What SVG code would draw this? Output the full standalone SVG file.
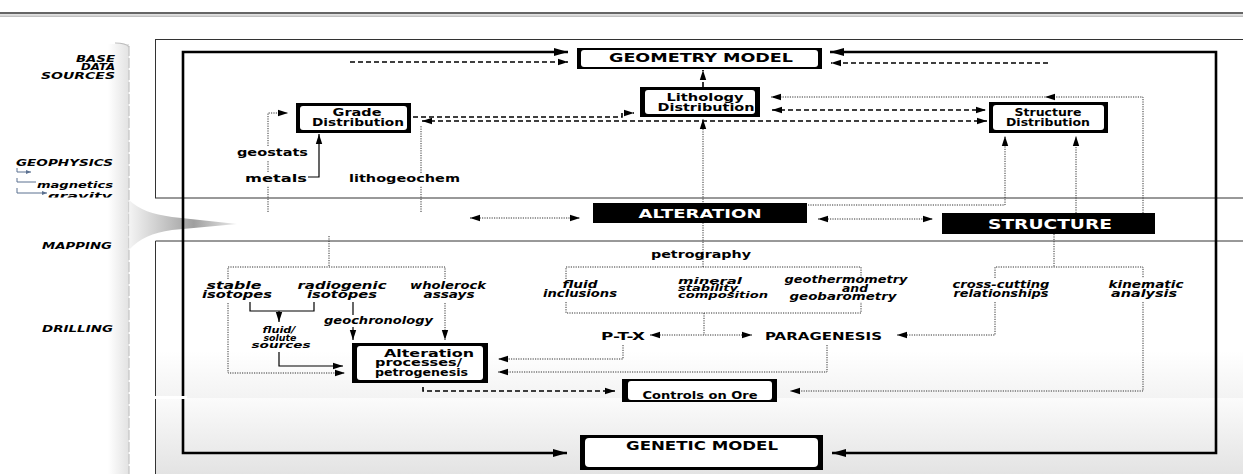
<svg xmlns="http://www.w3.org/2000/svg" width="1243" height="474" viewBox="0 0 1243 474">
<defs>
<style>
text{font-family:"DejaVu Sans","Verdana","Liberation Sans",sans-serif;font-weight:bold;fill:#000}
.it{font-style:italic}
.side{font-style:italic;font-size:9px}
.w{fill:#fff}
.frame{fill:none;stroke:#000;stroke-width:2.6}
.sol{fill:none;stroke:#000;stroke-width:1.2}
.dash{fill:none;stroke:#000;stroke-width:1.6;stroke-dasharray:5 3}
.dot{fill:none;stroke:#333;stroke-width:1;stroke-dasharray:1.2 1.2}
.blk{fill:#000}
.inner{fill:#fff}
.pl{fill:none;stroke:#333;stroke-width:1}
.bl{fill:none;stroke:#5b7090;stroke-width:1}
</style>
<marker id="a" markerUnits="userSpaceOnUse" markerWidth="10" markerHeight="8" refX="10" refY="4" orient="auto-start-reverse" viewBox="0 0 10 8"><path d="M0,0.8 L10,4 L0,7.2 Z" fill="#000"/></marker>
<marker id="A" markerUnits="userSpaceOnUse" markerWidth="14" markerHeight="9" refX="14" refY="4.5" orient="auto-start-reverse" viewBox="0 0 14 9"><path d="M0,0.5 L14,4.5 L0,8.5 Z" fill="#000"/></marker>
<marker id="s" markerUnits="userSpaceOnUse" markerWidth="5" markerHeight="4" refX="5" refY="2" orient="auto" viewBox="0 0 5 4"><path d="M0,0 L5,2 L0,4 Z" fill="#5b7090"/></marker>
<linearGradient id="gTop" x1="0" y1="0" x2="0" y2="1"><stop offset="0" stop-color="#dedede"/><stop offset="0.45" stop-color="#f6f6f6"/><stop offset="1" stop-color="#ffffff"/></linearGradient>
<linearGradient id="gMid" x1="0" y1="0" x2="0" y2="1"><stop offset="0" stop-color="#ffffff"/><stop offset="0.7" stop-color="#ffffff"/><stop offset="1" stop-color="#f3f3f3"/></linearGradient>
<linearGradient id="gBot" x1="0" y1="0" x2="0" y2="1"><stop offset="0" stop-color="#fbfbfb"/><stop offset="1" stop-color="#e2e2e2"/></linearGradient>
<linearGradient id="gAx" x1="0" y1="0" x2="1" y2="0"><stop offset="0" stop-color="#ffffff"/><stop offset="1" stop-color="#e2e2e2"/></linearGradient>
<linearGradient id="gBlob" x1="129" y1="0" x2="237" y2="0" gradientUnits="userSpaceOnUse"><stop offset="0" stop-color="#f2f2f2"/><stop offset="0.6" stop-color="#8e8e8e"/><stop offset="1" stop-color="#e8e8e8"/></linearGradient>
<clipPath id="cg"><rect x="0" y="150" width="130" height="47.5"/></clipPath>
</defs>

<!-- background -->
<rect x="0" y="0" width="1243" height="474" fill="#fff"/>
<rect x="0" y="12" width="1243" height="2.2" fill="#666"/>
<rect x="0" y="15.6" width="1243" height="1" fill="#999"/>
<rect x="108" y="44" width="21" height="430" fill="url(#gAx)"/>
<path d="M115,43 Q126,43 129,47" fill="none" stroke="#bbb" stroke-width="1.2"/>
<line x1="129" y1="46" x2="129" y2="474" stroke="#c4c4c4" stroke-width="1.2" stroke-dasharray="10 2"/>
<path d="M129,200 C140,210 152,214 172,217 L237,224 L172,230 C152,233 140,238 129,250 Z" fill="url(#gBlob)" opacity="0.85"/>

<rect x="155.5" y="39.5" width="1100" height="158.5" fill="url(#gTop)" class="pl"/>
<rect x="155.5" y="241" width="1100" height="157" fill="url(#gMid)"/>
<rect x="155.5" y="398" width="1100" height="80" fill="url(#gBot)"/>
<path d="M155.5,480 V241 H1255" class="pl"/>

<!-- connectors -->
<g id="connectors">
<path d="M568,52 H183 V453 H567" class="frame" marker-start="url(#A)" marker-end="url(#A)"/>
<path d="M830,52 H1216 V453 H832" class="frame" marker-start="url(#A)" marker-end="url(#A)"/>
<rect x="155" y="396" width="32" height="3" fill="#fff"/>
<path d="M350,62 H568" class="dash" stroke-width="2" marker-end="url(#a)"/>
<path d="M1048,63 H831" class="dash" stroke-width="2" marker-end="url(#a)"/>
<path d="M703,87 V70" class="dash" stroke-width="2" marker-end="url(#a)"/>

<path d="M268,212 V186 M268,172 V161 M268,146 V113 H288" class="dot" marker-end="url(#a)"/>
<path d="M308,177 H319 V134" class="sol" marker-end="url(#a)"/>
<path d="M421,212 V186 M421,173 V125" class="dot"/>
<path d="M422,121 H987" class="dash" marker-start="url(#a)" marker-end="url(#a)"/>
<path d="M413,117 H622 V113 H634" class="dash" marker-end="url(#a)"/>
<path d="M772,110 H986" class="dash" marker-start="url(#a)" marker-end="url(#a)"/>
<path d="M1143,213 V97 H771" class="dot" marker-end="url(#a)"/>
<path d="M1045,97 L1055,93.8 L1055,100.2 Z" fill="#000"/>
<path d="M703,267 V119" class="dot" marker-end="url(#a)"/>
<path d="M808,205 H1005 V136" class="dot" marker-end="url(#a)"/>
<path d="M1076,213 V136" class="dot" marker-end="url(#a)"/>
<path d="M818,219 H933" class="dot" marker-start="url(#a)" marker-end="url(#a)"/>
<path d="M470,218 H580" class="dot" marker-start="url(#a)" marker-end="url(#a)"/>

<path d="M329,236 V267 M228,279 V267 H445 V279" class="dot"/>
<path d="M228,303 V373 H345" class="dot" marker-end="url(#a)"/>
<path d="M445,303 V340" class="dot" marker-end="url(#a)"/>
<path d="M250,302 V311 H314 V302" class="sol"/>
<path d="M279,311 V322" class="sol" marker-end="url(#a)"/>
<path d="M279,352 V366 H343" class="sol" marker-end="url(#a)"/>
<path d="M353,302 V315" class="sol"/>
<path d="M353,327 V340" class="sol" marker-end="url(#a)"/>

<path d="M566,279 V267 H861 V277" class="dot"/>
<path d="M566,302 V313 H861 V302 M704,313 V335" class="dot"/>
<path d="M650,335 H752" class="dot" marker-start="url(#a)" marker-end="url(#a)"/>
<path d="M623,345 V359 H498" class="dot" marker-end="url(#a)"/>
<path d="M827,345 V372 H498" class="dot" marker-end="url(#a)"/>
<path d="M423,387 V391 H615" class="dash" marker-end="url(#a)"/>

<path d="M1054,234 V267 M995,278 V267 H1143 V278" class="dot"/>
<path d="M995,302 V335 H897" class="dot" marker-end="url(#a)"/>
<path d="M1143,302 V391 H790" class="dot" marker-end="url(#a)"/>

<path d="M17,168 V172 H31" class="bl" marker-end="url(#s)"/>
<path d="M17,178 V182 H36" class="bl"/>
<path d="M17,188 V193 H47" class="bl" marker-end="url(#s)"/>
</g>

<!-- side labels -->
<g id="side-labels">
<text class="side" x="115" y="62" text-anchor="end" textLength="39" lengthAdjust="spacingAndGlyphs">BASE</text>
<text class="side" x="115" y="70" text-anchor="end" textLength="34" lengthAdjust="spacingAndGlyphs">DATA</text>
<text class="side" x="115" y="78.5" text-anchor="end" textLength="74" lengthAdjust="spacingAndGlyphs">SOURCES</text>
<text class="side" x="113" y="166" text-anchor="end" textLength="97" lengthAdjust="spacingAndGlyphs">GEOPHYSICS</text>
<text class="side" x="113" y="188" text-anchor="end" font-size="10" textLength="76" lengthAdjust="spacingAndGlyphs">magnetics</text>
<g clip-path="url(#cg)"><text class="side" x="112" y="199" text-anchor="end" font-size="10" textLength="64" lengthAdjust="spacingAndGlyphs">gravity</text></g>
<text class="side" x="112" y="249" text-anchor="end" textLength="70" lengthAdjust="spacingAndGlyphs">MAPPING</text>
<text class="side" x="113" y="332" text-anchor="end" font-size="9.5" textLength="71" lengthAdjust="spacingAndGlyphs">DRILLING</text>
</g>

<!-- nodes -->
<g id="geometry-model">
<rect x="577" y="48" width="245" height="21" class="blk"/>
<rect x="581" y="50" width="237" height="17" rx="3" class="inner"/>
<text x="701" y="62" font-size="12" text-anchor="middle" textLength="184" lengthAdjust="spacingAndGlyphs">GEOMETRY MODEL</text>
</g>
<g id="lithology-distribution">
<rect x="640" y="87" width="120" height="30" class="blk"/>
<rect x="645" y="90" width="110" height="24" rx="3" class="inner"/>
<text x="705" y="101" font-size="10.5" text-anchor="middle" textLength="77" lengthAdjust="spacingAndGlyphs">Lithology</text>
<text x="706" y="111" font-size="10.5" text-anchor="middle" textLength="97" lengthAdjust="spacingAndGlyphs">Distribution</text>
</g>
<g id="grade-distribution">
<rect x="296" y="103" width="115" height="30" class="blk"/>
<rect x="300" y="106" width="107" height="24" rx="3" class="inner"/>
<text x="357" y="116" font-size="10" text-anchor="middle" textLength="49" lengthAdjust="spacingAndGlyphs">Grade</text>
<text x="358" y="126" font-size="10" text-anchor="middle" textLength="92" lengthAdjust="spacingAndGlyphs">Distribution</text>
</g>
<g id="structure-distribution">
<rect x="989" y="102" width="119" height="31" class="blk"/>
<rect x="993" y="105" width="111" height="25" rx="3" class="inner"/>
<text x="1048" y="116" font-size="10" text-anchor="middle" textLength="67" lengthAdjust="spacingAndGlyphs">Structure</text>
<text x="1048" y="126" font-size="10" text-anchor="middle" textLength="84" lengthAdjust="spacingAndGlyphs">Distribution</text>
</g>
<g id="alteration">
<rect x="593" y="203" width="214" height="20" class="blk"/>
<text x="700" y="218" font-size="12.5" class="w" text-anchor="middle" textLength="123" lengthAdjust="spacingAndGlyphs">ALTERATION</text>
</g>
<g id="structure">
<rect x="942" y="213" width="213" height="21" class="blk"/>
<text x="1050" y="229" font-size="13.5" class="w" text-anchor="middle" textLength="124" lengthAdjust="spacingAndGlyphs">STRUCTURE</text>
</g>
<g id="alteration-processes">
<rect x="352" y="343" width="136" height="40" class="blk"/>
<rect x="357" y="346" width="126" height="34" rx="3" class="inner"/>
<text x="384" y="357" font-size="10.5" textLength="90" lengthAdjust="spacingAndGlyphs">Alteration</text>
<text x="375" y="366" font-size="10.5" textLength="87" lengthAdjust="spacingAndGlyphs">processes/</text>
<text x="375" y="375.5" font-size="10.5" textLength="93" lengthAdjust="spacingAndGlyphs">petrogenesis</text>
</g>
<g id="controls-on-ore">
<rect x="622" y="379" width="155" height="23" class="blk"/>
<rect x="628" y="381" width="144" height="19" rx="3" class="inner"/>
<text x="700" y="399" font-size="10.5" text-anchor="middle" textLength="115" lengthAdjust="spacingAndGlyphs">Controls on Ore</text>
</g>
<g id="genetic-model">
<rect x="580" y="435" width="243" height="35" class="blk"/>
<rect x="585" y="438" width="233" height="29" rx="4" class="inner"/>
<text x="702" y="450" font-size="11.5" text-anchor="middle" textLength="152" lengthAdjust="spacingAndGlyphs">GENETIC  MODEL</text>
</g>

<!-- labels -->
<g id="geostats"><text x="237" y="156" font-size="10.5" textLength="71" lengthAdjust="spacingAndGlyphs">geostats</text></g>
<g id="metals"><text x="245" y="182" font-size="10.5" textLength="62" lengthAdjust="spacingAndGlyphs">metals</text></g>
<g id="lithogeochem"><text x="349" y="182" font-size="10.5" textLength="111" lengthAdjust="spacingAndGlyphs">lithogeochem</text></g>
<g id="petrography"><text x="651" y="258" font-size="10.5" textLength="100" lengthAdjust="spacingAndGlyphs">petrography</text></g>
<g id="ptx"><text x="601" y="340" font-size="10" textLength="44" lengthAdjust="spacingAndGlyphs">P-T-X</text></g>
<g id="paragenesis"><text x="765" y="340" font-size="10" textLength="117" lengthAdjust="spacingAndGlyphs">PARAGENESIS</text></g>

<g id="stable-isotopes">
<text class="it" x="234" y="289" font-size="10" text-anchor="middle" textLength="55" lengthAdjust="spacingAndGlyphs">stable</text>
<text class="it" x="237" y="298" font-size="10" text-anchor="middle" textLength="70" lengthAdjust="spacingAndGlyphs">isotopes</text>
</g>
<g id="radiogenic-isotopes">
<text class="it" x="342" y="289" font-size="10" text-anchor="middle" textLength="89" lengthAdjust="spacingAndGlyphs">radiogenic</text>
<text class="it" x="342" y="298" font-size="10" text-anchor="middle" textLength="70" lengthAdjust="spacingAndGlyphs">isotopes</text>
</g>
<g id="wholerock-assays">
<text class="it" x="448" y="289" font-size="10" text-anchor="middle" textLength="76" lengthAdjust="spacingAndGlyphs">wholerock</text>
<text class="it" x="449" y="298" font-size="10" text-anchor="middle" textLength="51" lengthAdjust="spacingAndGlyphs">assays</text>
</g>
<g id="geochronology"><text class="it" x="324" y="324" font-size="10" textLength="109" lengthAdjust="spacingAndGlyphs">geochronology</text></g>
<g id="fluid-solute-sources">
<text class="it" x="279" y="333" font-size="9.5" text-anchor="middle" textLength="33" lengthAdjust="spacingAndGlyphs">fluid/</text>
<text class="it" x="280" y="340.5" font-size="9.5" text-anchor="middle" textLength="33" lengthAdjust="spacingAndGlyphs">solute</text>
<text class="it" x="281" y="348" font-size="9.5" text-anchor="middle" textLength="59" lengthAdjust="spacingAndGlyphs">sources</text>
</g>
<g id="fluid-inclusions">
<text class="it" x="580" y="288" font-size="10" text-anchor="middle" textLength="35" lengthAdjust="spacingAndGlyphs">fluid</text>
<text class="it" x="580" y="297" font-size="10" text-anchor="middle" textLength="74" lengthAdjust="spacingAndGlyphs">inclusions</text>
</g>
<g id="mineral-stability">
<text class="it" x="678" y="283.5" font-size="9" textLength="64" lengthAdjust="spacingAndGlyphs">mineral</text>
<text class="it" x="678" y="290.5" font-size="9" textLength="60" lengthAdjust="spacingAndGlyphs">stability</text>
<text class="it" x="678" y="298" font-size="9" textLength="90" lengthAdjust="spacingAndGlyphs">composition</text>
</g>
<g id="geothermometry">
<text class="it" x="846" y="283" font-size="10" text-anchor="middle" textLength="123" lengthAdjust="spacingAndGlyphs">geothermometry</text>
<text class="it" x="855" y="291.5" font-size="10" text-anchor="middle" textLength="26" lengthAdjust="spacingAndGlyphs">and</text>
<text class="it" x="843" y="300" font-size="10" text-anchor="middle" textLength="107" lengthAdjust="spacingAndGlyphs">geobarometry</text>
</g>
<g id="cross-cutting">
<text class="it" x="1001" y="288" font-size="10" text-anchor="middle" textLength="97" lengthAdjust="spacingAndGlyphs">cross-cutting</text>
<text class="it" x="1001" y="297" font-size="10" text-anchor="middle" textLength="95" lengthAdjust="spacingAndGlyphs">relationships</text>
</g>
<g id="kinematic-analysis">
<text class="it" x="1146" y="288" font-size="10" text-anchor="middle" textLength="75" lengthAdjust="spacingAndGlyphs">kinematic</text>
<text class="it" x="1144" y="297" font-size="10" text-anchor="middle" textLength="66" lengthAdjust="spacingAndGlyphs">analysis</text>
</g>
</svg>
